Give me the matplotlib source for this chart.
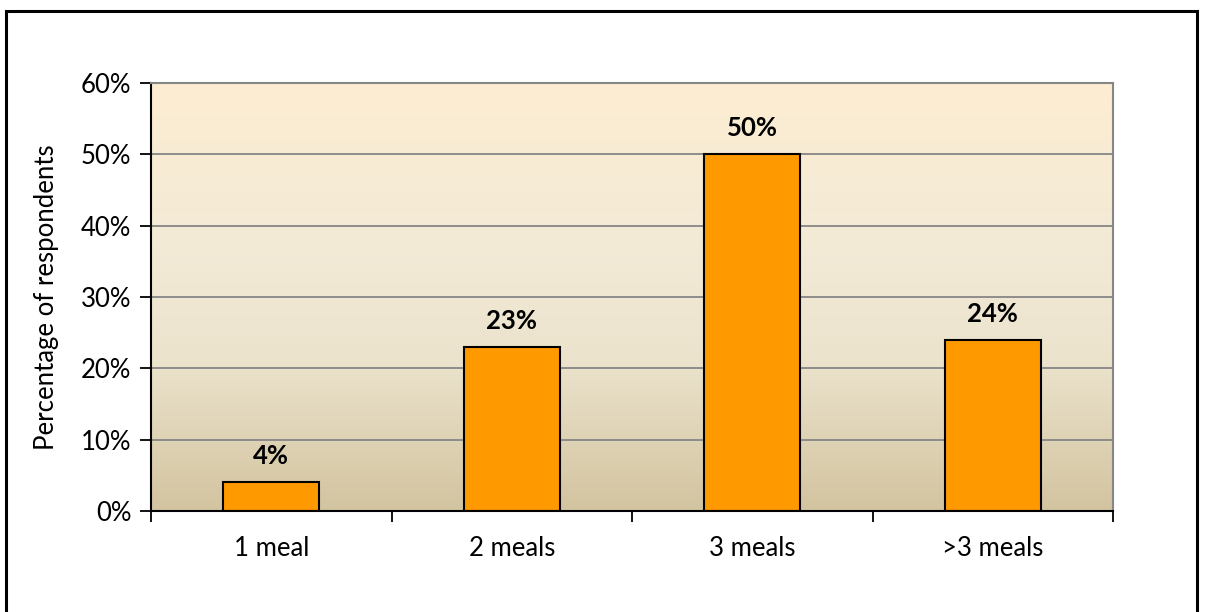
import numpy as np
import matplotlib
matplotlib.use("Agg")
import matplotlib.pyplot as plt
from matplotlib.colors import LinearSegmentedColormap
from matplotlib.patches import Rectangle

# Data
categories = ["1 meal", "2 meals", "3 meals", ">3 meals"]
percentages = [4, 23, 50, 24]
y_ticks = [0, 10, 20, 30, 40, 50, 60]

plt.rcParams['font.family'] = ['Lato', 'DejaVu Sans']

fig = plt.figure(figsize=(12.06, 6.12), dpi=100)
W, H = 1206, 612

# outer chart border
fig.patches.append(Rectangle((6 / W, -0.05), (1197 - 6) / W, 1.05 - 11 / H,
                             transform=fig.transFigure, fill=False,
                             edgecolor='black', linewidth=2.2))

ax = fig.add_axes([151 / W, 1 - 511 / H, (1113 - 151) / W, (511 - 83) / H])

# gradient background of the plot area
grad = LinearSegmentedColormap.from_list(
    "bg", [(0.0, "#d3c4a0"), (0.35, "#ebe3cc"), (0.6, "#f2ead6"), (1.0, "#fdedd2")])
ax.imshow(np.linspace(0, 1, 256).reshape(-1, 1), aspect='auto', cmap=grad,
          extent=[-0.5, 3.5, 0, 60], origin='lower', zorder=0)

x = np.arange(len(categories))
ax.set_xlim(-0.5, 3.5)
ax.set_ylim(0, 60)

for yv in y_ticks[1:-1]:
    ax.axhline(yv, color='#868686', linewidth=1.3, zorder=1)

ax.bar(x, percentages, width=0.4, color='#ff9900', edgecolor='black',
       linewidth=1.5, zorder=2)

for xi, v in zip(x, percentages):
    ax.text(xi, v + 2.0, f"{v}%", ha='center', va='bottom', fontsize=18.5,
            fontweight='bold', zorder=3)

ax.set_yticks(y_ticks)
ax.set_yticklabels([f"{t}%" for t in y_ticks], fontsize=18.5)
ax.set_xticks(x)
ax.set_xticklabels(categories, fontsize=18.5)
ax.set_xticks(np.arange(-0.5, 4, 1), minor=True)
ax.tick_params(axis='x', which='major', length=0, pad=18)
ax.tick_params(axis='x', which='minor', length=8, width=1.3, direction='out')
ax.tick_params(axis='y', length=8, width=1.3, pad=6)

ax.set_ylabel("Percentage of respondents", fontsize=18.5, labelpad=16)

for side in ['top', 'right']:
    ax.spines[side].set_color('#868686')
    ax.spines[side].set_linewidth(1.5)
for side in ['left', 'bottom']:
    ax.spines[side].set_color('black')
    ax.spines[side].set_linewidth(1.5)

fig.savefig("out.png", dpi=100)
